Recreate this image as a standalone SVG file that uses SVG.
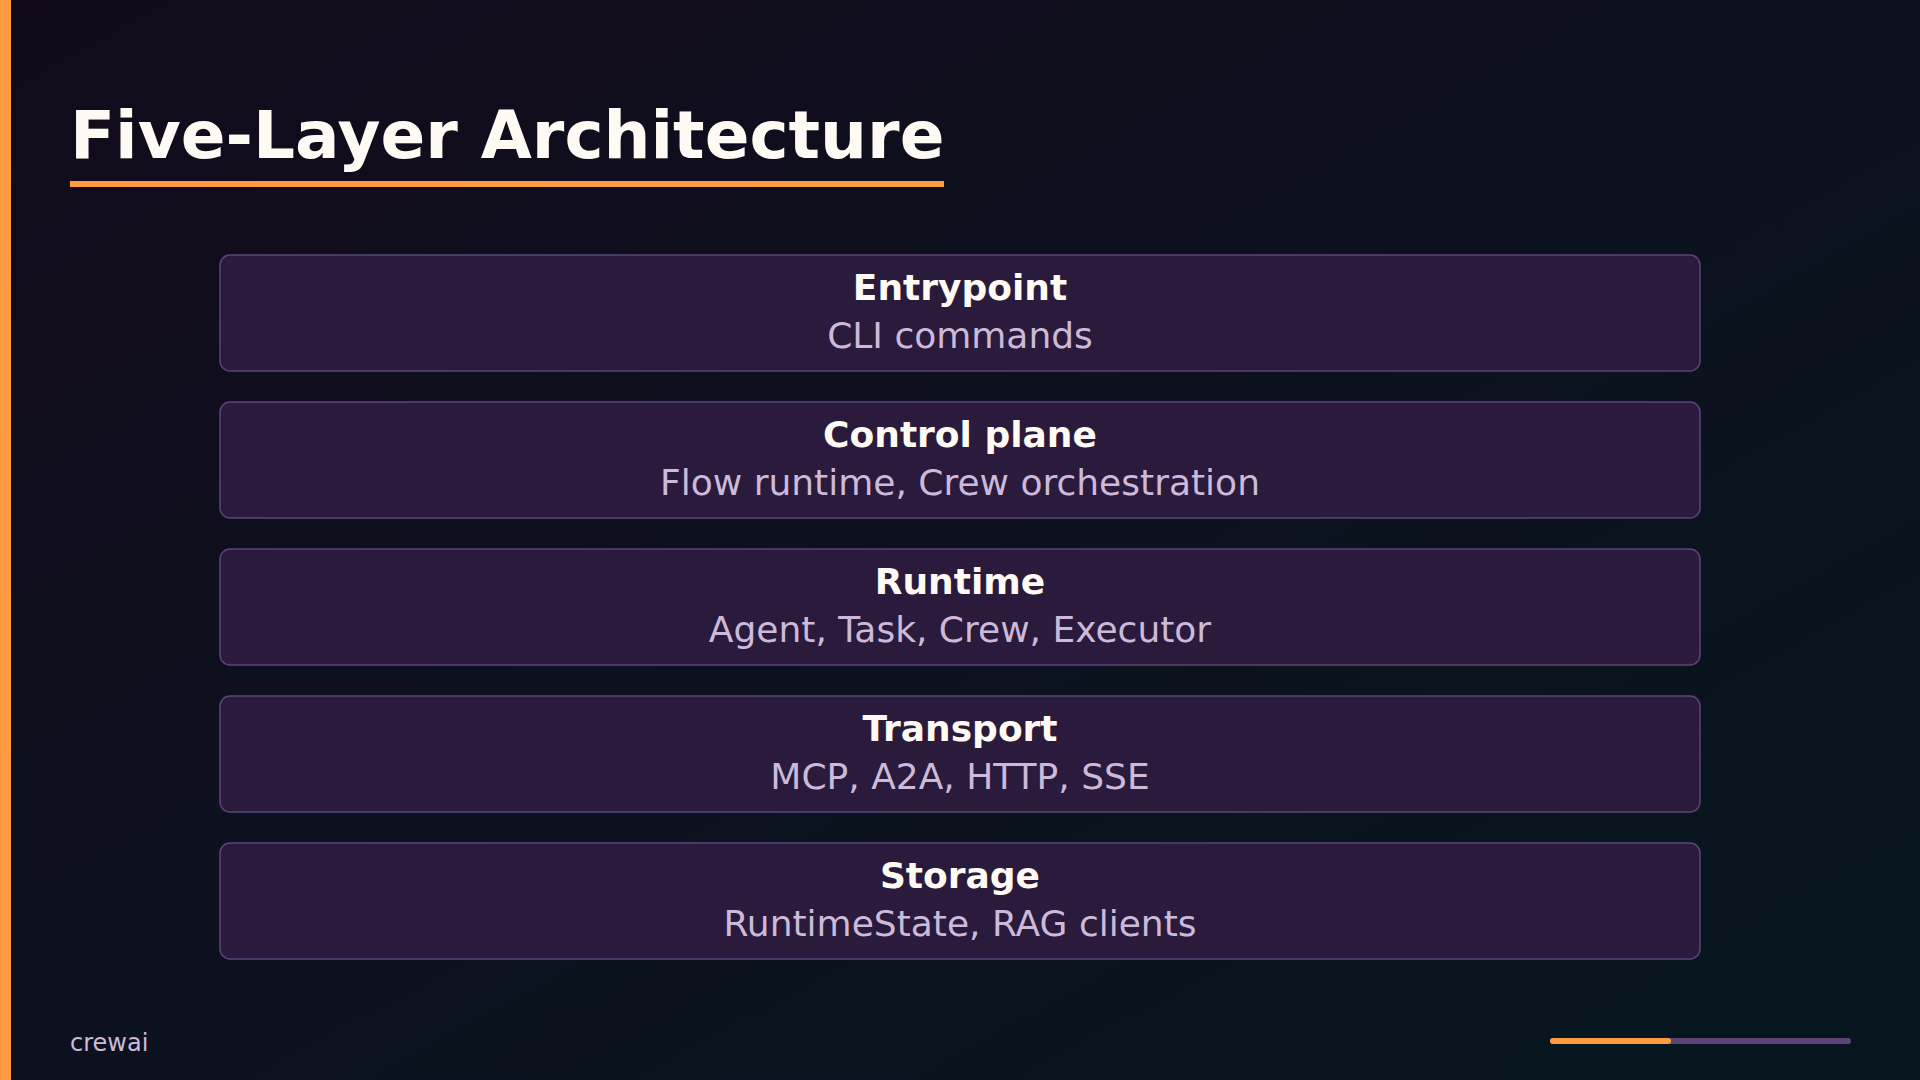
<svg xmlns="http://www.w3.org/2000/svg" width="1920" height="1080" viewBox="0 0 1920 1080">
<defs>
<linearGradient id="bg" x1="0" y1="0" x2="1" y2="1">
<stop offset="0" stop-color="#120a1b"/>
<stop offset="0.5" stop-color="#0d111f"/>
<stop offset="1" stop-color="#06161e"/>
</linearGradient>
<style>
.box{fill:#2a1a3b;stroke:#5b4479;stroke-width:1.5}
.h{font-family:"DejaVu Sans",sans-serif;font-weight:bold;font-size:36px;fill:#fffaf3;text-anchor:middle}
.s{font-family:"DejaVu Sans",sans-serif;font-size:36px;fill:#cbbad9;text-anchor:middle}
</style>
</defs>
<rect width="1920" height="1080" fill="url(#bg)"/>
<rect x="0" y="0" width="11" height="1080" fill="#ff9a40"/>
<text x="70" y="158" font-family="DejaVu Sans, sans-serif" font-weight="bold" font-size="66" fill="#fffaf3">Five-Layer Architecture</text>
<rect x="70" y="181" width="874" height="6" fill="#ff9a40"/>
<g id="connectors"></g>
<g id="entrypoint"><rect class="box" x="220" y="255" width="1480" height="116" rx="10"/><text class="h" x="960" y="300">Entrypoint</text><text class="s" x="960" y="348">CLI commands</text></g>
<g id="control-plane"><rect class="box" x="220" y="402" width="1480" height="116" rx="10"/><text class="h" x="960" y="447">Control plane</text><text class="s" x="960" y="495">Flow runtime, Crew orchestration</text></g>
<g id="runtime"><rect class="box" x="220" y="549" width="1480" height="116" rx="10"/><text class="h" x="960" y="594">Runtime</text><text class="s" x="960" y="642">Agent, Task, Crew, Executor</text></g>
<g id="transport"><rect class="box" x="220" y="696" width="1480" height="116" rx="10"/><text class="h" x="960" y="741">Transport</text><text class="s" x="960" y="789">MCP, A2A, HTTP, SSE</text></g>
<g id="storage"><rect class="box" x="220" y="843" width="1480" height="116" rx="10"/><text class="h" x="960" y="888">Storage</text><text class="s" x="960" y="936">RuntimeState, RAG clients</text></g>
<text x="70" y="1051" font-family="DejaVu Sans, sans-serif" font-size="24" fill="#cbbad9">crewai</text>
<line x1="1553" y1="1041" x2="1848" y2="1041" stroke="#5c4478" stroke-width="6" stroke-linecap="round"/>
<line x1="1553" y1="1041" x2="1668" y2="1041" stroke="#ff9a40" stroke-width="6" stroke-linecap="round"/>
</svg>
